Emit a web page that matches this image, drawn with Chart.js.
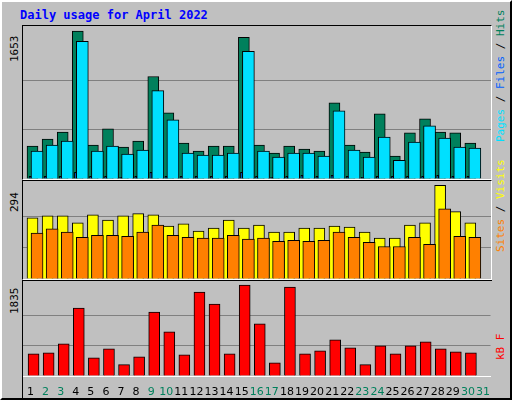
<!DOCTYPE html>
<html>
<head>
<meta charset="utf-8">
<script src="https://cdn.jsdelivr.net/npm/chart.js@4"></script>
<style>
body { margin: 0; background: #fff; }
#frame { position: absolute; left: 0; top: 0; width: 508px; height: 396px; background: #c0c0c0;
  border: 2px solid; border-color: #fff #000 #000 #fff; }
.panel { position: absolute; left: 20px; width: 470px; box-sizing: border-box;
  border: 1px solid; border-color: #000 #fff #fff #000; }
.txt { position: absolute; font-family: "DejaVu Sans Mono", monospace; font-size: 11px; white-space: nowrap; }
.rot { transform: rotate(-90deg); transform-origin: left top; }
</style>
</head>
<body>
<div id="frame">
  <div class="txt" style="left:18px;top:6px;color:#0000ff;font-weight:bold;font-size:12px">Daily usage for April 2022</div>
  <div class="panel" style="top:23px;height:155px"><canvas id="c1"></canvas></div>
  <div class="panel" style="top:178px;height:100px"><canvas id="c2"></canvas></div>
  <div class="panel" style="top:278px;height:118px;border:none;border-top:1px solid #000;border-left:1px solid #000"><canvas id="c3"></canvas></div>
  <div class="txt rot" style="left:6px;top:60px">1653</div>
  <div class="txt rot" style="left:6px;top:210px">294</div>
  <div class="txt rot" style="left:6px;top:312px">1835</div>
  <div class="txt rot" style="left:492px;top:140px"><span style="color:#00e0ff">Pages</span> / <span style="color:#0060ff">Files</span> / <span style="color:#00805c">Hits</span></div>
  <div class="txt rot" style="left:492px;top:250px"><span style="color:#ff8000">Sites</span> / <span style="color:#ffff00">Visits</span></div>
  <div class="txt rot" style="left:492px;top:358px;color:#ff0000">kB F</div>
</div>
<script>
const days = ["1","2","3","4","5","6","7","8","9","10","11","12","13","14","15","16","17","18","19","20","21","22","23","24","25","26","27","28","29","30","31"];
const weekend = [2,3,9,10,16,17,23,24,30,31];
const hits = [368,447,526,1653,379,560,357,425,1146,740,402,312,368,368,1585,379,289,368,334,312,853,379,300,729,255,515,672,526,515,402];
const files = [312,379,425,1540,312,368,278,323,988,661,289,267,267,289,1428,312,244,289,289,255,763,323,244,470,210,413,594,458,357,346];
const pages = [30,30,30,75,30,30,20,30,75,30,30,30,30,30,75,30,20,30,40,30,40,30,20,30,30,30,30,40,30,30];
const sites = [192,198,198,176,201,185,198,205,201,166,173,150,160,185,160,169,147,147,160,160,166,163,147,128,128,169,176,294,211,176];
const visits = [144,157,147,131,137,137,134,147,169,137,131,128,128,137,125,128,118,121,118,121,147,131,115,102,102,131,109,220,134,131];
const kbytes = [449,469,650,1373,368,549,228,388,1292,891,429,1694,1453,449,1835,1051,268,1795,449,509,730,569,228,609,449,609,690,549,489,469];

const pts = (arr, off) => arr.map((v, i) => ({ x: i + off, y: v }));
const bar = (label, data, color, w, order) => ({ label, data, order, backgroundColor: color, borderColor: "#000", borderWidth: 1, barThickness: w, grouped: false });

function panel(id, datasets, top, headroom, withDays) {
  const scales = {
    x: { type: "linear", min: 0, max: 31, offset: false, display: false },
    y: {
      min: 0, max: top * headroom,
      afterBuildTicks: s => { s.ticks = [{ value: 0 }, { value: top / 3 }, { value: top * 2 / 3 }]; },
      afterFit: s => { s.width = 0; },
      ticks: { display: false },
      grid: { color: "#808080", lineWidth: 1, drawTicks: false },
      border: { display: false },
    },
  };
  if (withDays) {
    scales.d = {
      type: "category", labels: days, position: "bottom", offset: true,
      afterFit: s => { s.height = 22; },
      grid: { display: false }, border: { color: "#fff" },
      ticks: {
        font: { family: "DejaVu Sans", size: 11 }, padding: 2, autoSkip: false, maxRotation: 0,
        color: c => weekend.includes(c.index + 1) ? "#00805c" : "#000",
      },
    };
  }
  return new Chart(document.getElementById(id), {
    type: "bar",
    data: { datasets },
    options: {
      responsive: true, maintainAspectRatio: false, animation: false,
      layout: { padding: 0 },
      plugins: { legend: { display: false }, tooltip: { enabled: false } },
      scales,
    },
  });
}

panel("c1", [
  bar("Hits", pts(hits, 0.63), "#00805c", 11, 3),
  bar("Files", pts(files, 0.93), "#00e0ff", 12, 2),
  bar("Pages", pts(pages, 0.47), "#0060ff", 2, 1),
], 1653, 1.035);
panel("c2", [
  bar("Sites", pts(sites, 0.63), "#ffff00", 11, 2),
  bar("Visits", pts(visits, 0.93), "#ff8000", 12, 1),
], 294, 1.045);
panel("c3", [
  bar("kB F", pts(kbytes, 0.7), "#ff0000", 11, 1),
], 1835, 1.045, true);
</script>
</body>
</html>
